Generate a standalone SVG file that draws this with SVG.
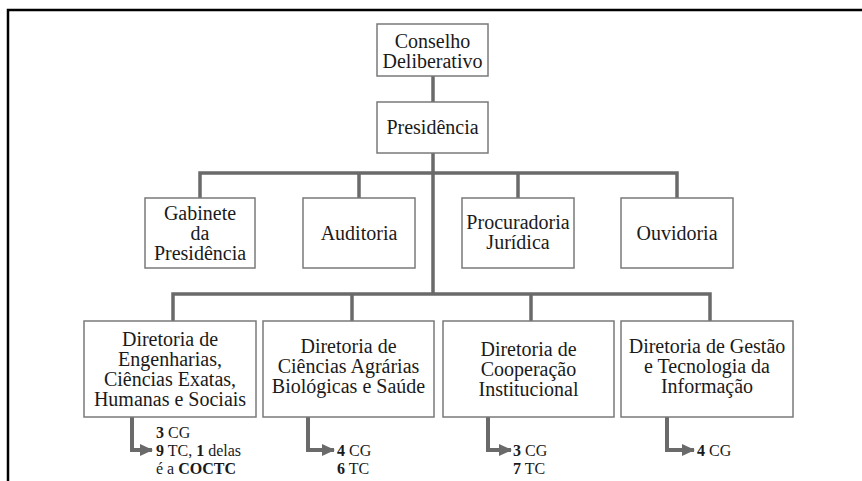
<svg xmlns="http://www.w3.org/2000/svg" width="862" height="481" viewBox="0 0 862 481">
<style>
.box{fill:#fff;stroke:#7a7a7a;stroke-width:1.5}
.t{font-size:20px;fill:#1a1a1a;text-anchor:middle}
.s{font-size:16px;fill:#1a1a1a}
.b{font-weight:bold}
.c{fill:none;stroke:#6a6a6a;stroke-width:3.5}
.a{fill:none;stroke:#6a6a6a;stroke-width:4}
</style>
<defs>
<marker id="ah" markerUnits="userSpaceOnUse" markerWidth="14" markerHeight="14" refX="12" refY="7" orient="auto">
<path d="M0,1 L13,7 L0,13 Z" fill="#6a6a6a"/>
</marker>
</defs>
<rect x="0" y="0" width="862" height="481" fill="#fff"/>
<path d="M8,481 V10 H862" fill="none" stroke="#000" stroke-width="2.5"/>
<g id="connectors">
<path class="c" d="M433,76 V102"/>
<path class="c" d="M433,153 V294"/>
<path class="c" d="M200,198 V173 H677 V198"/>
<path class="c" d="M359,173 V198"/>
<path class="c" d="M518,173 V198"/>
<path class="c" d="M173,321 V294 H710 V321"/>
<path class="c" d="M352,294 V321"/>
<path class="c" d="M531,294 V321"/>
<path class="a" d="M132,417 V450 H152" marker-end="url(#ah)"/>
<path class="a" d="M308,417 V450 H334" marker-end="url(#ah)"/>
<path class="a" d="M488,417 V450 H511" marker-end="url(#ah)"/>
<path class="a" d="M667,417 V450 H694" marker-end="url(#ah)"/>
</g>
<g font-family="Liberation Serif, Times New Roman, DejaVu Serif, serif">
<g id="conselho">
<rect class="box" x="377" y="24" width="111" height="52"/>
<text class="t" x="432.5" y="48">Conselho</text>
<text class="t" x="432.5" y="68">Deliberativo</text>
</g>
<g id="presidencia">
<rect class="box" x="377" y="102" width="111" height="51"/>
<text class="t" x="432.5" y="134">Presidência</text>
</g>
<g id="gabinete">
<rect class="box" x="145" y="198" width="110" height="70"/>
<text class="t" x="200" y="220">Gabinete</text>
<text class="t" x="200" y="240">da</text>
<text class="t" x="200" y="260">Presidência</text>
</g>
<g id="auditoria">
<rect class="box" x="303" y="198" width="112" height="70"/>
<text class="t" x="359" y="240">Auditoria</text>
</g>
<g id="procuradoria">
<rect class="box" x="462" y="198" width="112" height="70"/>
<text class="t" x="518" y="229">Procuradoria</text>
<text class="t" x="518" y="249">Jurídica</text>
</g>
<g id="ouvidoria">
<rect class="box" x="621" y="198" width="112" height="70"/>
<text class="t" x="677" y="240">Ouvidoria</text>
</g>
<g id="dir-engenharias">
<rect class="box" x="84" y="321" width="172" height="96"/>
<text class="t" x="170" y="346">Diretoria de</text>
<text class="t" x="170" y="366">Engenharias,</text>
<text class="t" x="170" y="386">Ciências Exatas,</text>
<text class="t" x="170" y="406">Humanas e Sociais</text>
<text class="s" x="156" y="438"><tspan class="b">3</tspan> CG</text>
<text class="s" x="156" y="456"><tspan class="b">9</tspan> TC, <tspan class="b">1</tspan> delas</text>
<text class="s" x="156" y="474">é a <tspan class="b">COCTC</tspan></text>
</g>
<g id="dir-agrarias">
<rect class="box" x="263" y="321" width="171" height="96"/>
<text class="t" x="348.5" y="353">Diretoria de</text>
<text class="t" x="348.5" y="373">Ciências Agrárias</text>
<text class="t" x="348.5" y="393">Biológicas e Saúde</text>
<text class="s" x="337" y="456"><tspan class="b">4</tspan> CG</text>
<text class="s" x="337" y="474"><tspan class="b">6</tspan> TC</text>
</g>
<g id="dir-cooperacao">
<rect class="box" x="443" y="321" width="171" height="96"/>
<text class="t" x="528.5" y="356">Diretoria de</text>
<text class="t" x="528.5" y="376">Cooperação</text>
<text class="t" x="528.5" y="396">Institucional</text>
<text class="s" x="513" y="456"><tspan class="b">3</tspan> CG</text>
<text class="s" x="513" y="474"><tspan class="b">7</tspan> TC</text>
</g>
<g id="dir-gestao">
<rect class="box" x="621" y="321" width="172" height="96"/>
<text class="t" x="707" y="353">Diretoria de Gestão</text>
<text class="t" x="707" y="373">e Tecnologia da</text>
<text class="t" x="707" y="393">Informação</text>
<text class="s" x="697" y="456"><tspan class="b">4</tspan> CG</text>
</g>
</g>
</svg>
